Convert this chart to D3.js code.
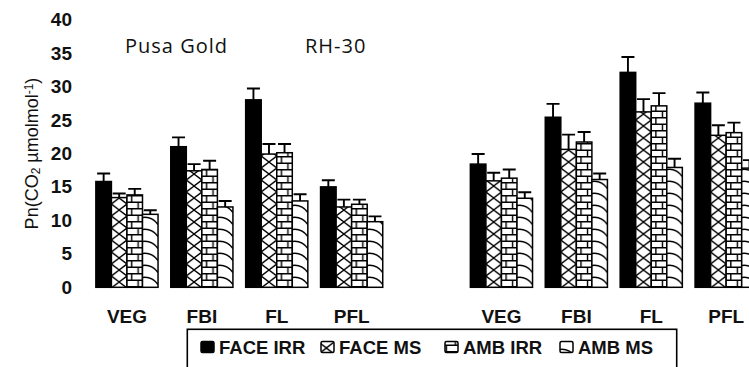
<!DOCTYPE html>
<html>
<head>
<meta charset="utf-8">
<script src="https://cdn.jsdelivr.net/npm/d3@7"></script>
<style>
  body { margin: 0; background: #fff; }
  svg { display: block; font-family: Arial, "Liberation Sans", sans-serif; }
</style>
</head>
<body>
<svg id="chart" width="749" height="367"></svg>
<script>
// Growth stages, cultivars and CO2 / water treatments
const stages = ["VEG", "FBI", "FL", "PFL"];
const cultivars = ["Pusa Gold", "RH-30"];
const treatments = ["FACE IRR", "FACE MS", "AMB IRR", "AMB MS"];

// Net photosynthesis means (rows: stages, columns: treatments)
const pusaGoldMeans = [
  [15.8, 13.4, 13.8, 10.9],
  [21.0, 17.4, 17.6, 12.0],
  [28.0, 19.9, 20.1, 12.9],
  [15.0, 12.0, 12.4, 9.8]
];
const pusaGoldErrors = [
  [1.2, 0.6, 0.9, 0.6],
  [1.4, 1.0, 1.3, 0.9],
  [1.7, 1.5, 1.3, 1.0],
  [1.0, 1.1, 0.7, 0.8]
];
const rh30Means = [
  [18.4, 15.9, 16.3, 13.3],
  [25.4, 20.6, 21.7, 16.1],
  [32.1, 26.2, 27.1, 17.9],
  [27.5, 22.7, 23.1, 17.8]
];
const rh30Errors = [
  [1.5, 1.2, 1.3, 0.9],
  [2.0, 2.2, 1.5, 0.9],
  [2.3, 1.9, 1.9, 1.3],
  [1.6, 1.5, 1.5, 1.2]
];
const yTicks = [0, 5, 10, 15, 20, 25, 30, 35, 40];

const svg = d3.select("#chart");

// One slot per stage and cultivar, with an empty slot separating the cultivars
const slots = [
  ...stages.map(s => cultivars[0] + "|" + s),
  "gap",
  ...stages.map(s => cultivars[1] + "|" + s)
];

const rows = [];
stages.forEach((s, i) => {
  rows.push({ slot: cultivars[0] + "|" + s, means: pusaGoldMeans[i], errs: pusaGoldErrors[i] });
});
stages.forEach((s, i) => {
  rows.push({ slot: cultivars[1] + "|" + s, means: rh30Means[i], errs: rh30Errors[i] });
});

const x = d3.scaleBand().domain(slots).range([89.5, 763.6]).paddingInner(0.17).paddingOuter(0.085);
const xs = d3.scaleBand().domain(treatments).range([0, x.bandwidth()]);
const y = d3.scaleLinear().domain([0, 40]).range([287.3, 19.5]);
const bw = xs.bandwidth();

// Fill patterns, laid out in each bar's own coordinates
const defs = svg.append("defs");
function pattern(id, w, h, d) {
  const p = defs.append("pattern").attr("id", id)
    .attr("patternUnits", "userSpaceOnUse").attr("width", w).attr("height", h);
  p.append("rect").attr("width", w).attr("height", h).attr("fill", "#fff");
  p.append("path").attr("d", d).attr("fill", "none").attr("stroke", "#000").attr("stroke-width", 1.4);
}
pattern("pFaceMs", bw, 12,
  `M0,0 L${bw / 2},6 L0,12 M${bw},0 L${bw / 2},6 L${bw},12`);
pattern("pAmbIrr", bw, 13,
  `M0,0.7 H${bw} M0,7.2 H${bw} M${bw * 0.3},0.7 V7.2 M${bw * 0.72},7.2 V13.7`);
pattern("pAmbMs", bw, 12,
  `M0,1.5 Q${bw * 0.6},0 ${bw},8.5`);

const fills = {
  "FACE IRR": "#000",
  "FACE MS": "url(#pFaceMs)",
  "AMB IRR": "url(#pAmbIrr)",
  "AMB MS": "url(#pAmbMs)"
};

// Bars with error bars
const groups = svg.append("g").selectAll("g.stage")
  .data(rows).join("g")
  .attr("class", "stage")
  .attr("transform", d => `translate(${x(d.slot)},0)`);

const bars = groups.selectAll("g.bar")
  .data(d => treatments.map((t, j) => ({ t, v: d.means[j], e: d.errs[j] })))
  .join("g")
  .attr("class", "bar")
  .attr("transform", d => `translate(${xs(d.t)},0)`);

bars.append("rect")
  .attr("x", 0)
  .attr("y", d => y(d.v))
  .attr("width", bw)
  .attr("height", d => y(0) - y(d.v))
  .attr("fill", d => fills[d.t])
  .attr("stroke", "#000")
  .attr("stroke-width", 1.5);

const capW = 13;
bars.append("path")
  .attr("d", d => `M${bw / 2},${y(d.v)} V${y(d.v + d.e)} M${bw / 2 - capW / 2},${y(d.v + d.e)} H${bw / 2 + capW / 2}`)
  .attr("fill", "none")
  .attr("stroke", "#000")
  .attr("stroke-width", 1.9);

// Y axis: labels only
const yAxis = svg.append("g")
  .attr("transform", "translate(74,0)")
  .call(d3.axisLeft(y).tickValues(yTicks).tickSize(0).tickPadding(2));
yAxis.select(".domain").remove();
yAxis.selectAll("text")
  .attr("font-size", 19).attr("font-weight", "bold")
  .attr("font-family", "Arial, 'Liberation Sans', sans-serif").attr("fill", "#111");

// Stage labels under each group
const xAxis = svg.append("g")
  .attr("transform", `translate(0,${y(0)})`)
  .call(d3.axisBottom(x).tickSize(0).tickPadding(22.5)
    .tickFormat(d => d === "gap" ? "" : d.split("|")[1]));
xAxis.select(".domain").remove();
xAxis.selectAll("text")
  .attr("font-size", 19).attr("font-weight", "bold")
  .attr("font-family", "Arial, 'Liberation Sans', sans-serif").attr("fill", "#111");

// Axis title
const title = svg.append("text")
  .attr("transform", "translate(38,153.5) rotate(-90)")
  .attr("text-anchor", "middle")
  .attr("font-size", 18)
  .attr("fill", "#111");
title.append("tspan").text("Pn(CO");
title.append("tspan").text("2").attr("font-size", 12).attr("baseline-shift", "-20%");
title.append("tspan").text(" µmolmol");
title.append("tspan").text("-1").attr("font-size", 12).attr("baseline-shift", "40%");
title.append("tspan").text(")");

// Cultivar names
svg.append("text").attr("x", 125).attr("y", 53)
  .attr("font-family", "'Open Sans', sans-serif").attr("font-size", 20)
  .attr("letter-spacing", 1).attr("fill", "#111").text(cultivars[0]);
svg.append("text").attr("x", 305).attr("y", 53)
  .attr("font-family", "'Open Sans', sans-serif").attr("font-size", 20)
  .attr("letter-spacing", 1).attr("fill", "#111").text(cultivars[1]);

// Legend
const legend = svg.append("g");
legend.append("rect")
  .attr("x", 187.3).attr("y", 329.3).attr("width", 489.4).attr("height", 60)
  .attr("fill", "#fff").attr("stroke", "#000").attr("stroke-width", 1.6);
const textX = [219, 339, 463, 578];
treatments.forEach((t, i) => {
  legend.append("rect")
    .attr("x", textX[i] - 18).attr("y", 341.5).attr("width", 13).attr("height", 11)
    .attr("rx", 1.5)
    .attr("fill", fills[t]).attr("stroke", "#000").attr("stroke-width", 1.5);
  legend.append("text")
    .attr("x", textX[i]).attr("y", 353.5)
    .attr("font-size", 18.5).attr("font-weight", "bold").attr("fill", "#111")
    .text(t);
});
</script>
</body>
</html>
